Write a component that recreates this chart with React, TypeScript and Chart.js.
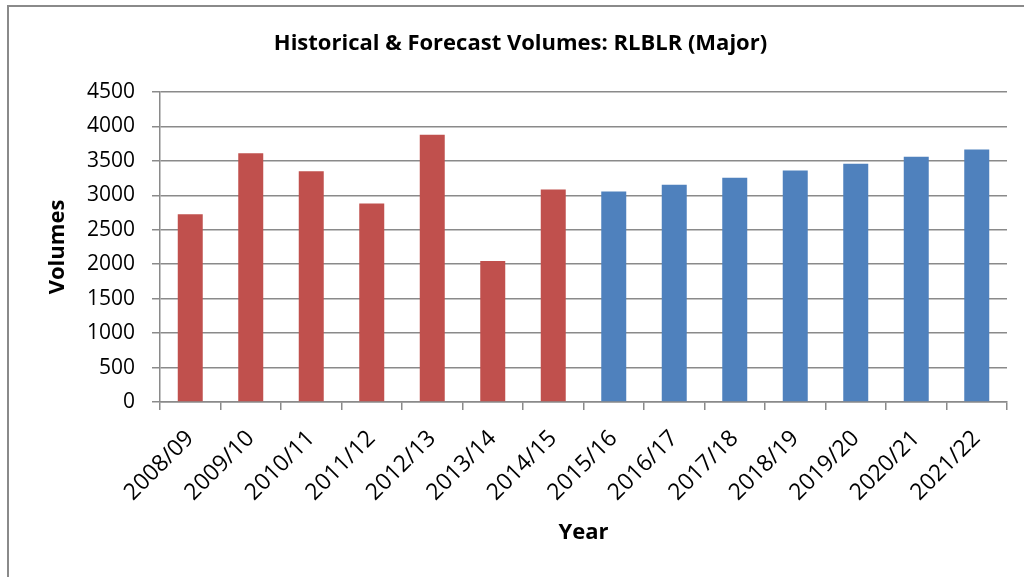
import React, { useEffect, useRef } from "react";
import { Chart, registerables } from "chart.js";

Chart.register(...registerables);

const categories = [
  "2008/09", "2009/10", "2010/11", "2011/12", "2012/13", "2013/14", "2014/15",
  "2015/16", "2016/17", "2017/18", "2018/19", "2019/20", "2020/21", "2021/22",
];
const historicalVolumes = [2725, 3610, 3350, 2880, 3880, 2045, 3085];
const forecastVolumes = [3055, 3155, 3255, 3360, 3460, 3560, 3665];
const yTicks = [0, 500, 1000, 1500, 2000, 2500, 3000, 3500, 4000, 4500];

const HIST_COLOR = "#C0504D";
const FORE_COLOR = "#4F81BD";
const GRID = "#8a8a8a";
const FONT = "'Open Sans', 'DejaVu Sans', sans-serif";

export default function App() {
  const ref = useRef<HTMLCanvasElement | null>(null);

  useEffect(() => {
    if (!ref.current) return;
    const values = [...historicalVolumes, ...forecastVolumes];
    const colors = values.map((_, i) => (i < historicalVolumes.length ? HIST_COLOR : FORE_COLOR));
    const chart = new Chart(ref.current, {
      type: "bar",
      data: {
        labels: categories,
        datasets: [
          {
            label: "Volumes",
            data: values,
            backgroundColor: colors,
            borderWidth: 0,
            categoryPercentage: 1,
            barPercentage: 0.413,
          },
        ],
      },
      options: {
        responsive: false,
        animation: false,
        layout: { padding: { left: 34, right: 17, top: 0, bottom: 0 } },
        plugins: {
          legend: { display: false },
          tooltip: { enabled: false },
          title: {
            display: true,
            text: "Historical & Forecast Volumes: RLBLR (Major)",
            color: "#000",
            font: { family: FONT, size: 22, weight: "bold" },
            padding: { top: 31, bottom: 34.6 },
          },
        },
        scales: {
          x: {
            grid: {
              display: true,
              drawOnChartArea: false,
              drawTicks: true,
              tickLength: 8,
              color: GRID,
              lineWidth: 1.5,
              offset: true,
            },
            border: { display: true, color: GRID, width: 1.5 },
            ticks: {
              color: "#000",
              font: { family: FONT, size: 23 },
              minRotation: 45,
              maxRotation: 45,
              autoSkip: false,
              padding: 15,
            },
            title: {
              display: true,
              text: "Year",
              color: "#000",
              font: { family: FONT, size: 22, weight: "bold" },
              padding: { top: 0, bottom: 31 },
            },
            afterFit: (scale: any) => {
              scale.height = 175;
            },
          },
          y: {
            min: 0,
            max: 4500,
            afterBuildTicks: (scale: any) => {
              scale.ticks = yTicks.map((v) => ({ value: v }));
            },
            grid: {
              display: true,
              drawTicks: true,
              tickLength: 8,
              color: GRID,
              lineWidth: 1.5,
            },
            border: { display: true, color: GRID, width: 1.5 },
            ticks: {
              color: "#000",
              font: { family: FONT, size: 21 },
              padding: 17,
              callback: (v: any) => String(v),
            },
            title: {
              display: true,
              text: "Volumes",
              color: "#000",
              font: { family: FONT, size: 22, weight: "bold" },
              padding: { top: 11, bottom: 0 },
            },
            afterFit: (scale: any) => {
              scale.width = 126;
            },
          },
        },
      },
    });
    return () => chart.destroy();
  }, []);

  return (
    <div style={{ position: "absolute", left: 0, top: 0, width: 1024, height: 577, background: "#fff", overflow: "hidden" }}>
      <canvas ref={ref} width={1024} height={577} style={{ display: "block" }} />
      <div
        style={{
          position: "absolute",
          left: 7,
          top: 5,
          width: 1030,
          height: 600,
          borderLeft: `2px solid ${GRID}`,
          borderTop: `2px solid ${GRID}`,
          pointerEvents: "none",
        }}
      />
    </div>
  );
}
